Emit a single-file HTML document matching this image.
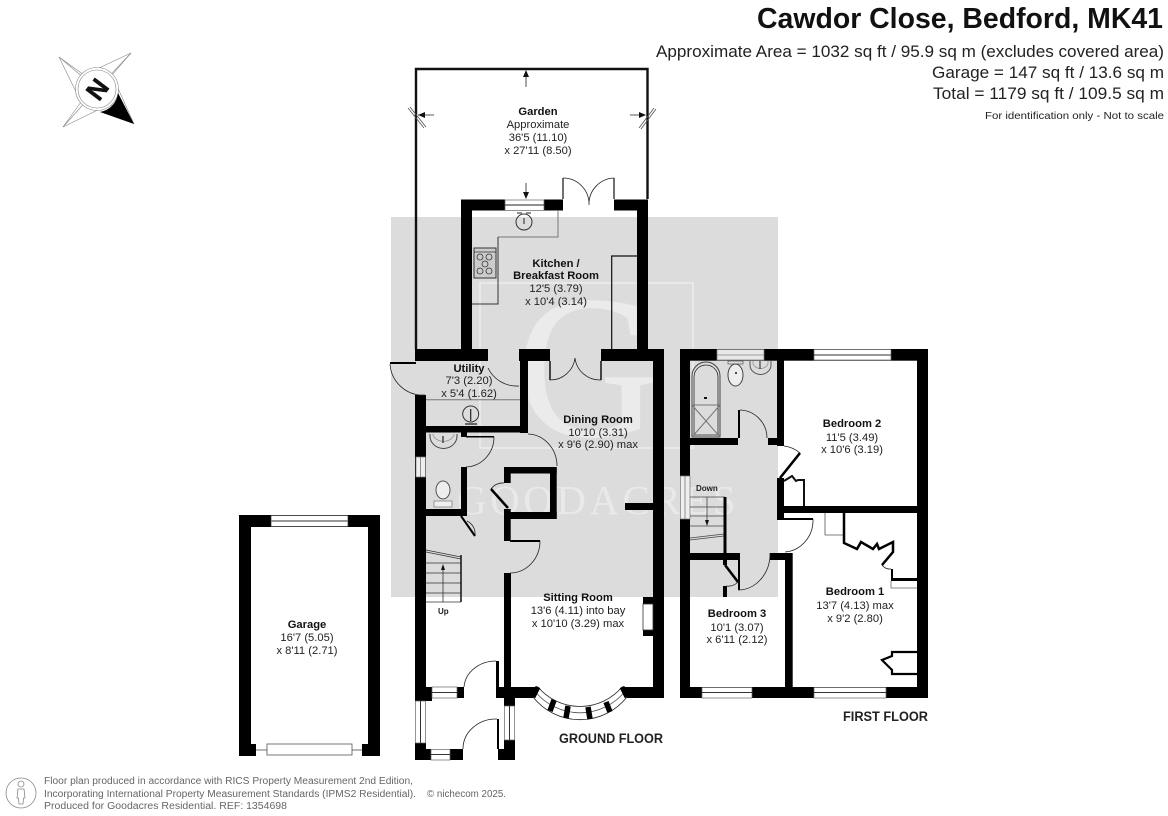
<!DOCTYPE html>
<html><head><meta charset="utf-8"><title>Cawdor Close floor plan</title>
<style>
html,body{margin:0;padding:0;background:#fff;width:1168px;height:816px;overflow:hidden}
svg{display:block;font-family:"Liberation Sans",sans-serif}
.l{font-size:11.2px;text-anchor:middle;fill:#222}
.b{font-weight:bold;fill:#111}
.t{stroke:#222;stroke-width:.8;fill:none}
.g{stroke:#777;stroke-width:1;fill:none}
.d{stroke:#111;stroke-width:1.2;fill:none}
.w{fill:#fff;stroke:#666;stroke-width:.7}
</style></head><body>
<svg width="1168" height="816" viewBox="0 0 1168 816" xmlns="http://www.w3.org/2000/svg">
<rect width="1168" height="816" fill="#fff"/>
<!-- shade + watermark -->
<rect x="391" y="217" width="387" height="380" fill="#dcdcdc"/>
<rect x="480" y="283" width="213" height="165" fill="none" stroke="#e9e9e9" stroke-width="2"/>
<text x="516" y="436" font-family="Liberation Serif" font-size="205" textLength="143" lengthAdjust="spacingAndGlyphs" fill="#ebebeb">G</text>
<text x="457" y="514" font-family="Liberation Serif" font-size="41" letter-spacing="3.5" fill="#e9e9e9">GOODACRES</text>

<!-- garden -->
<path d="M416 349V69H647.500V199" fill="none" stroke="#111" stroke-width="2.400"/>
<path d="M526 87V72M418 115H434M645 115H630M526 183V198" class="t"/>
<path d="M526 70l-3 7h6zM418 115l7-3v6zM646 115l-7-3v6zM526 199l-3-7h6z" fill="#111"/>
<path d="M408 108L424 128M410 107L426 127M639 128L654 108M641 129L656 109" fill="none" stroke="#555" stroke-width=".8"/>
<!-- garden door -->
<path d="M563 178V199M614 178V199" class="d"/>
<path d="M563 178A26 26 0 0 1 589 205M614 178A26 26 0 0 0 589 205" class="t"/>

<!-- ground floor walls -->
<g fill="#000">
<rect x="461" y="199.500" width="11" height="150"/>
<rect x="461" y="199.500" width="44" height="11"/>
<rect x="544" y="199.500" width="19" height="11"/>
<rect x="614" y="199.500" width="34" height="11"/>
<rect x="637" y="199.500" width="11" height="150"/>
<rect x="415" y="349" width="73" height="12"/>
<rect x="519" y="349" width="31" height="12"/>
<rect x="601" y="349" width="63" height="12"/>
<rect x="653" y="349" width="11" height="349"/>
<rect x="520" y="349" width="8" height="84"/>
<rect x="415" y="426" width="113" height="6.500"/>
<rect x="415" y="395" width="11" height="306"/>
<rect x="461" y="432" width="6" height="5"/>
<rect x="461" y="467" width="6" height="43"/>
<rect x="425" y="509" width="42" height="7"/>
<rect x="504" y="467" width="6.700" height="16"/>
<rect x="504" y="509" width="6.700" height="32"/>
<rect x="504" y="573" width="7" height="114"/>
<rect x="504" y="467" width="52.700" height="6.500"/>
<rect x="550" y="467" width="6.700" height="52"/>
<rect x="504" y="512" width="52.700" height="7"/>
<rect x="625" y="503" width="28" height="7"/>
<rect x="643" y="597" width="10" height="7"/>
<rect x="643" y="630" width="10" height="6"/>
<rect x="496" y="687" width="42" height="11"/>
<rect x="622" y="687" width="42" height="11"/>
<rect x="415" y="687" width="17" height="14"/>
<rect x="457" y="687" width="7" height="11"/>
<rect x="415" y="743" width="11" height="17"/>
<rect x="415" y="749" width="16" height="11"/>
<rect x="450" y="749" width="13" height="11"/>
<rect x="504" y="687" width="11" height="19"/>
<rect x="504" y="740" width="11" height="20"/>
<rect x="498" y="749" width="6" height="11"/>
<rect x="496" y="661" width="3" height="26"/>
<rect x="497" y="719" width="2" height="30"/>
<rect x="390" y="362" width="26" height="2"/>
<rect x="510" y="540" width="30" height="2"/>
<rect x="466" y="436" width="28" height="1.500"/>
</g>
<!-- sitting window recess -->
<rect x="643" y="604" width="10" height="26" fill="#fff" stroke="#333" stroke-width=".8"/>
<!-- windows ground -->
<g>
<rect x="505" y="200" width="39" height="10.500" class="w"/><path d="M505 205H544" stroke="#222" stroke-width="1"/>
<rect x="416" y="457" width="9.500" height="20" fill="#eee" stroke="#777" stroke-width=".7"/><path d="M420.500 457V477" stroke="#777" stroke-width=".8"/>
<rect x="432" y="687" width="25" height="11" class="w"/><path d="M432 692.500H457" stroke="#333" stroke-width="1"/>
<rect x="415.500" y="701" width="10" height="42" class="w"/><path d="M420.500 701V743" stroke="#333" stroke-width="1"/>
<rect x="431" y="749.500" width="19" height="10.500" class="w"/><path d="M431 754.500H450" stroke="#333" stroke-width="1"/>
<rect x="504.500" y="706" width="10" height="34" class="w"/><path d="M509.500 706V740" stroke="#333" stroke-width="1"/>
</g>
<!-- bay -->
<path d="M533 697A60 60 0 0 0 627 697L622 687A55 55 0 0 1 538 687Z" fill="#fff" stroke="#222" stroke-width=".8"/>
<path d="M535.500 692A58 58 0 0 0 624.500 692" fill="none" stroke="#555" stroke-width=".8"/>
<path d="M533 697L538 687M627 697L622 687" stroke="#000" stroke-width="5"/>
<path d="M554 700L550 711M568 706L566 718M588 707L590 719M606 702L610 712" stroke="#000" stroke-width="5.500"/>
<!-- doors ground -->
<path d="M390 364A33 33 0 0 0 425 395M488 368A32 32 0 0 0 519 386M550 380A25 25 0 0 0 575 358M601 380A25 25 0 0 1 575 358M528 434A30 32 0 0 1 557 466M494 437A29 30 0 0 1 466 467M540 541A30 32 0 0 1 510 573M496 661A32 28 0 0 0 464 687M497 719A33 30 0 0 0 463 749M491 489A14 14 0 0 1 504 483M467 521A14 14 0 0 1 475 535" class="t"/>
<path d="M550 361V380M601 361V380" stroke="#111" stroke-width="1.500"/>
<path d="M491 489L508 508" stroke="#000" stroke-width="2.500"/>
<path d="M461 516L475 536" stroke="#000" stroke-width="2"/>
<!-- kitchen fittings -->
<path d="M558 211V237H498" class="g"/>
<path d="M498 237V304H472" stroke="#333" stroke-width="1" fill="none"/>
<path d="M611.700 349V256H637" class="d" stroke-width="1"/>
<circle cx="524" cy="222" r="8" fill="none" stroke="#333" stroke-width="1"/>
<path d="M524 218V224M517 213h5M526 213h5" stroke="#222" stroke-width="1"/>
<rect x="474" y="248" width="22" height="30" fill="#ccc" stroke="#333" stroke-width="1"/>
<path d="M474 252H496" stroke="#333" stroke-width=".8"/>
<g fill="none" stroke="#333" stroke-width=".8"><circle cx="480" cy="257" r="3"/><circle cx="489" cy="257" r="3"/><circle cx="485" cy="264" r="3"/><circle cx="480" cy="271" r="3"/><circle cx="489" cy="271" r="3"/></g>
<!-- utility -->
<path d="M426 399.700H520" class="g"/>
<circle cx="470.700" cy="414" r="8" fill="none" stroke="#333" stroke-width="1"/>
<path d="M470.700 409V421M465 424h12" stroke="#222" stroke-width="1.200"/>
<!-- WC -->
<path d="M430 434V436A13 12 0 0 0 457 436V434" fill="none" stroke="#444" stroke-width="1"/>
<path d="M433 434V435A11 9 0 0 0 454 435V434" fill="none" stroke="#888" stroke-width=".7"/>
<path d="M443 436V443" stroke="#222" stroke-width="1.200"/>
<ellipse cx="443" cy="490" rx="7" ry="9" fill="#eee" stroke="#555" stroke-width="1"/>
<rect x="434" y="501" width="18" height="6" fill="#eee" stroke="#777" stroke-width=".7"/>
<!-- stairs ground -->
<g stroke="#333" stroke-width=".8" fill="none">
<path d="M426 550L461 557M426 552L461 559M426 563H461M426 573H461M426 583H461M426 593H461M426 602H461"/>
<path d="M461 555V602" stroke="#111" stroke-width="1.500"/>
<path d="M443 602V568"/>
</g>
<path d="M443 564l-2 6h4z" fill="#111"/>

<!-- first floor -->
<g fill="#000">
<rect x="680" y="349" width="248" height="11.700"/>
<rect x="680" y="349" width="10" height="127"/>
<rect x="680" y="519" width="10" height="179"/>
<rect x="917" y="349" width="11" height="349"/>
<rect x="680" y="687" width="248" height="11"/>
<rect x="777" y="349" width="7" height="97"/>
<rect x="690" y="438" width="48" height="7"/>
<rect x="768" y="438" width="16" height="7"/>
<rect x="738" y="410" width="2" height="28"/>
<rect x="777" y="478" width="7" height="42"/>
<rect x="777" y="506" width="140" height="7"/>
<rect x="777" y="518" width="36" height="2"/>
<rect x="785" y="553" width="7.700" height="134"/>
<rect x="770" y="553" width="22" height="7"/>
<rect x="690" y="553" width="48" height="7"/>
<rect x="738" y="553" width="2" height="37"/>
<rect x="723" y="560" width="4" height="5"/>
<rect x="723" y="586" width="4" height="11"/>
<rect x="891" y="578" width="26" height="3"/>
<rect x="891" y="569" width="2" height="10"/>
</g>
<!-- windows first -->
<g>
<rect x="717" y="349.500" width="47" height="10.500" fill="#e8e8e8" stroke="#777" stroke-width=".7"/><path d="M717 355H764" stroke="#888" stroke-width=".8"/>
<rect x="814" y="349.500" width="77" height="10.500" class="w"/><path d="M814 355H891" stroke="#333" stroke-width="1"/>
<rect x="680.500" y="476" width="9.500" height="43" fill="#eee" stroke="#777" stroke-width=".7"/><path d="M685 476V519" stroke="#777" stroke-width=".8"/>
<rect x="702" y="687.500" width="50" height="10.500" class="w"/><path d="M702 692.500H752" stroke="#333" stroke-width="1"/>
<rect x="814" y="687.500" width="72" height="10.500" class="w"/><path d="M814 692.500H886" stroke="#333" stroke-width="1"/>
</g>
<!-- bath -->
<path d="M692 437V376A14 14 0 0 1 720 376V437Z" fill="none" stroke="#444" stroke-width="1"/>
<path d="M694 435V377A12 12 0 0 1 718 377V435Z" fill="none" stroke="#222" stroke-width=".8"/>
<path d="M692 437L720 405M720 437L692 405M692 405H720" class="g" stroke-width=".7"/>
<rect x="704" y="397" width="3" height="2" fill="#111"/>
<rect x="728" y="361" width="15" height="3" fill="#ddd" stroke="#555" stroke-width=".7"/>
<ellipse cx="735.500" cy="375" rx="7.500" ry="11" fill="#eee" stroke="#444" stroke-width="1"/>
<path d="M735 373h2" stroke="#111" stroke-width="1.500"/>
<path d="M750 361V365A10 9 0 0 0 771 365V361" fill="none" stroke="#555" stroke-width="1"/>
<path d="M753 361V364A8 7 0 0 0 768 364V361" fill="none" stroke="#888" stroke-width=".7"/>
<path d="M760 361V369" stroke="#222" stroke-width="1"/>
<!-- doors first -->
<path d="M740 410A28 28 0 0 1 767 438M784 446A30 30 0 0 1 800 453M813 519A30 32 0 0 1 785 552M738 590A32 36 0 0 0 770 553M738 582A14 14 0 0 1 726 586M882 565A10 10 0 0 0 891 569" class="t"/>
<path d="M800 453L780 478M725 565L738 582" stroke="#000" stroke-width="2.600"/>
<!-- cupboards -->
<path d="M784 481L792 476L796 481L798 480H804V506" fill="none" stroke="#111" stroke-width="2"/>
<path d="M825 513V535H844" fill="none" stroke="#555" stroke-width=".8"/>
<path d="M844 513V543L857 549L861 542L873 549L877 544L879 549L893 542V552L882 565" fill="none" stroke="#000" stroke-width="2.500"/>
<path d="M891 581V588H917" fill="none" stroke="#666" stroke-width=".8"/>
<path d="M917 652H892V656L882 660L892 670V674H917" fill="none" stroke="#000" stroke-width="2.200"/>
<!-- stairs first -->
<g fill="none" stroke="#444" stroke-width=".8">
<path d="M690 497H725M690 507H725M690 516H725M690 526H725M690 538L724 534M690 540L724 536M707 497V523"/>
</g>
<path d="M725 497V555" stroke="#000" stroke-width="3"/>
<path d="M707 526l-2-6h4z" fill="#111"/>

<!-- garage -->
<g fill="#000">
<rect x="239" y="515" width="12" height="241"/>
<rect x="368" y="515" width="12" height="241"/>
<rect x="239" y="515" width="141" height="12"/>
<rect x="251" y="744" width="5" height="12"/>
<rect x="362" y="744" width="6" height="12"/>
</g>
<rect x="271" y="515.500" width="77" height="11" fill="#fff" stroke="#333" stroke-width=".7"/>
<path d="M271 521H348" stroke="#777" stroke-width="1.500"/>
<rect x="267" y="744" width="85" height="11" fill="#fff" stroke="#555" stroke-width=".8"/>
<path d="M256 750H267M352 750H362" stroke="#444" stroke-width=".8"/>

<!-- compass -->
<g fill="none" stroke="#888" stroke-width=".6">
<path d="M59 57L84 75L131 53L112 75L134 124L110 104L63 127L81 102Z"/>
<path d="M59 57L97 89M131 53L97 89M63 127L97 89"/>
<circle cx="97" cy="89" r="21.500" fill="#fff"/><circle cx="97" cy="89" r="19" fill="#fff"/>
</g>
<path d="M134 124L118 93A21.500 21.500 0 0 1 100 112Z" fill="#000"/>
<text transform="translate(97 89) rotate(-53)" x="0" y="9.500" font-size="26" font-weight="bold" text-anchor="middle" fill="#111" stroke="#111" stroke-width=".5">N</text>

<!-- header -->
<text x="757" y="28" font-size="29" font-weight="bold" textLength="406" lengthAdjust="spacingAndGlyphs" fill="#111">Cawdor Close, Bedford, MK41</text>
<g font-size="17" fill="#222">
<text x="656" y="57" textLength="508" lengthAdjust="spacingAndGlyphs">Approximate Area = 1032 sq ft / 95.9 sq m (excludes covered area)</text>
<text x="932" y="78" textLength="232" lengthAdjust="spacingAndGlyphs">Garage = 147 sq ft / 13.6 sq m</text>
<text x="933" y="99" textLength="231" lengthAdjust="spacingAndGlyphs">Total = 1179 sq ft / 109.5 sq m</text>
</g>
<text x="985" y="119" font-size="10.500" textLength="179" lengthAdjust="spacingAndGlyphs" fill="#222">For identification only - Not to scale</text>

<!-- labels -->
<g class="l">
<text class="l b" x="538" y="115">Garden</text><text class="l" x="538" y="128">Approximate</text><text class="l" x="538" y="141">36'5 (11.10)</text><text class="l" x="538" y="154">x 27'11 (8.50)</text>
<text class="l b" x="556" y="267">Kitchen /</text><text class="l b" x="556" y="279">Breakfast Room</text><text class="l" x="556" y="292">12'5 (3.79)</text><text class="l" x="556" y="305">x 10'4 (3.14)</text>
<text class="l b" x="469" y="372">Utility</text><text class="l" x="469" y="384">7'3 (2.20)</text><text class="l" x="469" y="397">x 5'4 (1.62)</text>
<text class="l b" x="598" y="423">Dining Room</text><text class="l" x="598" y="436">10'10 (3.31)</text><text class="l" x="598" y="448">x 9'6 (2.90) max</text>
<text class="l b" x="578" y="601">Sitting Room</text><text class="l" x="578" y="614">13'6 (4.11) into bay</text><text class="l" x="578" y="627">x 10'10 (3.29) max</text>
<text class="l b" x="852" y="427">Bedroom 2</text><text class="l" x="852" y="441">11'5 (3.49)</text><text class="l" x="852" y="453">x 10'6 (3.19)</text>
<text class="l b" x="737" y="617">Bedroom 3</text><text class="l" x="737" y="631">10'1 (3.07)</text><text class="l" x="737" y="643">x 6'11 (2.12)</text>
<text class="l b" x="855" y="595">Bedroom 1</text><text class="l" x="855" y="609">13'7 (4.13) max</text><text class="l" x="855" y="622">x 9'2 (2.80)</text>
<text class="l b" x="307" y="628">Garage</text><text class="l" x="307" y="641">16'7 (5.05)</text><text class="l" x="307" y="654">x 8'11 (2.71)</text>
</g>
<text x="438" y="614" font-size="8" font-weight="bold" fill="#222">Up</text>
<text x="696" y="491" font-size="8" font-weight="bold" fill="#222">Down</text>
<text x="559" y="743" font-size="13.500" font-weight="bold" textLength="104" lengthAdjust="spacingAndGlyphs" fill="#222">GROUND FLOOR</text>
<text x="843" y="721" font-size="13.500" font-weight="bold" textLength="85" lengthAdjust="spacingAndGlyphs" fill="#222">FIRST FLOOR</text>

<!-- footer -->
<circle cx="21" cy="793" r="15" fill="none" stroke="#888" stroke-width=".8"/>
<circle cx="21" cy="784" r="3" fill="none" stroke="#888" stroke-width=".8"/>
<path d="M18 789H24L25 798H23.500L23 804H19L18.500 798H17Z" fill="none" stroke="#888" stroke-width=".8"/>
<g font-size="10" fill="#666">
<text x="44" y="784" textLength="369" lengthAdjust="spacingAndGlyphs">Floor plan produced in accordance with RICS Property Measurement 2nd Edition,</text>
<text x="44" y="797" textLength="372" lengthAdjust="spacingAndGlyphs">Incorporating International Property Measurement Standards (IPMS2 Residential).</text>
<text x="44" y="809" textLength="243" lengthAdjust="spacingAndGlyphs">Produced for Goodacres Residential.   REF: 1354698</text>
<text x="427" y="797" textLength="79" lengthAdjust="spacingAndGlyphs">© nichecom 2025.</text>
</g>
</svg>
</body></html>
